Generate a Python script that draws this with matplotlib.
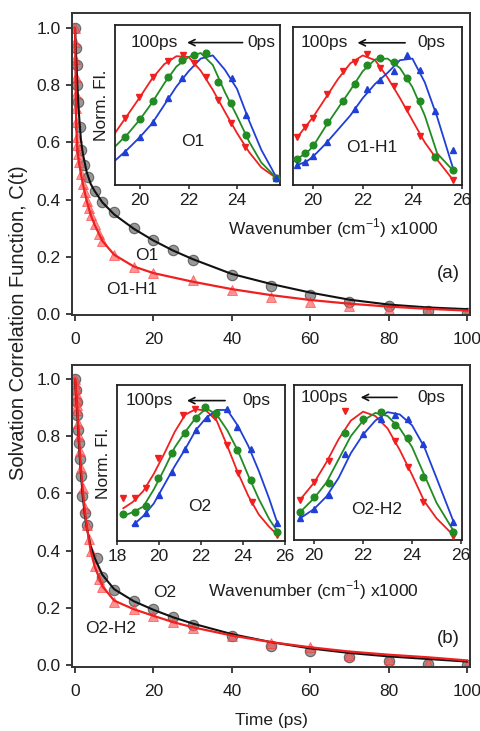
import matplotlib
matplotlib.use("Agg")
import matplotlib.pyplot as plt

plt.rcParams['font.family'] = ['Liberation Sans', 'DejaVu Sans']

# ---- solvation correlation C(t), panel (a) ----
t_o1 = [0, 0.2, 0.4, 0.6, 0.8, 1.2, 1.6, 2.4, 3.2, 5, 7, 10, 15, 20, 25, 30,
        40, 50, 60, 70, 80, 90, 100]
c_o1 = [1.0, 0.93, 0.87, 0.80, 0.74, 0.655, 0.575, 0.52, 0.48, 0.43, 0.39,
        0.355, 0.30, 0.26, 0.224, 0.19, 0.137, 0.098, 0.066, 0.043, 0.028,
        0.012, 0.005]
fit_t_o1 = [0, 0.2, 0.4, 0.6, 0.8, 1, 1.5, 2, 3, 4, 5, 7, 10, 15, 20, 25, 30,
            40, 50, 60, 70, 80, 90, 100]
fit_o1 = [1.0, 0.93, 0.865, 0.80, 0.745, 0.70, 0.61, 0.56, 0.495, 0.455, 0.43,
          0.39, 0.348, 0.298, 0.257, 0.222, 0.192, 0.14, 0.105, 0.075, 0.05,
          0.033, 0.023, 0.017]

t_o1h1 = [0, 0.05, 0.1, 0.15, 0.2, 0.25, 0.3, 0.4, 0.5, 0.75, 1, 1.5, 2, 2.5,
          3, 3.5, 4, 5, 6, 7, 10, 15, 20, 30, 40, 50, 60, 70, 80, 90, 100]
c_o1h1 = [1.0, 0.95, 0.89, 0.83, 0.77, 0.72, 0.67, 0.62, 0.59, 0.56, 0.53,
          0.49, 0.455, 0.425, 0.395, 0.37, 0.345, 0.315, 0.28, 0.255, 0.205,
          0.163, 0.144, 0.118, 0.084, 0.06, 0.043, 0.028, 0.016, 0.008, 0.003]
fit_t_o1h1 = [0, 0.1, 0.2, 0.3, 0.5, 0.75, 1, 1.5, 2, 3, 4, 5, 7, 10, 15, 20,
              30, 40, 50, 60, 70, 80, 90, 100]
fit_o1h1 = [1.0, 0.89, 0.77, 0.67, 0.59, 0.555, 0.53, 0.49, 0.455, 0.395,
            0.347, 0.312, 0.255, 0.207, 0.166, 0.143, 0.113, 0.087, 0.066,
            0.049, 0.036, 0.026, 0.018, 0.012]

# ---- panel (b) ----
t_o2 = [0, 0.2, 0.4, 0.6, 0.8, 1.0, 1.2, 1.5, 1.8, 2.5, 3, 5.5, 7, 10, 15,
        20, 25, 30, 40, 50, 60, 70, 80, 90, 100]
c_o2 = [1.0, 0.96, 0.92, 0.875, 0.82, 0.775, 0.72, 0.66, 0.59, 0.53, 0.49,
        0.375, 0.309, 0.262, 0.225, 0.195, 0.169, 0.14, 0.101, 0.066, 0.05,
        0.029, 0.015, 0.003, 0.0]
fit_t_o2 = [0, 0.2, 0.4, 0.6, 0.8, 1, 1.5, 2, 2.5, 3, 4, 5, 7, 10, 15, 20, 25,
            30, 40, 50, 60, 70, 80, 90, 100]
fit_o2 = [1.0, 0.96, 0.92, 0.875, 0.825, 0.775, 0.67, 0.585, 0.525, 0.48,
          0.415, 0.375, 0.315, 0.265, 0.223, 0.193, 0.167, 0.145, 0.108, 0.08,
          0.058, 0.042, 0.03, 0.021, 0.012]

t_o2h2 = [0, 0.1, 0.2, 0.3, 0.4, 0.5, 0.6, 0.8, 1.0, 1.2, 1.5, 2, 2.5, 3, 3.5,
          4, 5, 6, 7, 10, 15, 20, 25, 30, 40, 50, 60, 70, 80, 90, 100]
c_o2h2 = [1.0, 0.985, 0.97, 0.95, 0.93, 0.91, 0.89, 0.845, 0.80, 0.75, 0.69,
          0.62, 0.55, 0.49, 0.44, 0.40, 0.345, 0.30, 0.274, 0.222, 0.196,
          0.172, 0.15, 0.13, 0.101, 0.078, 0.062, 0.035, 0.02, 0.006, 0.0]
fit_t_o2h2 = fit_t_o2
fit_o2h2 = [1.0, 0.97, 0.93, 0.89, 0.845, 0.80, 0.69, 0.61, 0.54, 0.485, 0.40,
            0.345, 0.275, 0.225, 0.195, 0.172, 0.15, 0.132, 0.103, 0.08,
            0.062, 0.047, 0.036, 0.027, 0.016]

# ---- time-resolved emission spectra (wavenumber x1000, normalised) ----
# O1
o1_red_x = [19.38, 19.97, 20.55, 21.16, 21.76, 22.24, 22.72, 23.22, 23.77, 24.32, 25.62]
o1_red_y = [0.417, 0.548, 0.677, 0.777, 0.8125, 0.76, 0.677, 0.531, 0.385, 0.24, 0.042]
o1_grn_x = [19.38, 20.0, 20.55, 21.16, 21.73, 22.24, 22.72, 23.22, 23.77, 24.37, 25.62]
o1_grn_y = [0.298, 0.41, 0.527, 0.677, 0.78, 0.81, 0.823, 0.646, 0.51, 0.3125, 0.042]
o1_blu_x = [19.38, 20.0, 20.55, 21.16, 21.73, 23.8, 24.37, 25.62]
o1_blu_y = [0.208, 0.302, 0.396, 0.542, 0.667, 0.667, 0.4375, 0.042]
o1_fit_x = [18.97, 19.5, 20.0, 20.5, 21.0, 21.5, 22.0, 22.5, 23.0, 23.5, 24.0, 24.5, 25.0, 25.65]
o1_fit_red = [0.325, 0.44, 0.55, 0.665, 0.755, 0.805, 0.80, 0.715, 0.595, 0.457, 0.324, 0.205, 0.11, 0.04]
o1_fit_grn = [0.24, 0.32, 0.41, 0.515, 0.635, 0.74, 0.80, 0.825, 0.75, 0.58, 0.43, 0.27, 0.14, 0.04]
o1_fit_blu = [0.152, 0.225, 0.30, 0.385, 0.50, 0.615, 0.71, 0.79, 0.81, 0.72, 0.60, 0.40, 0.22, 0.04]

# O1-H1
o1h1_red_x = [19.34, 19.68, 19.99, 20.58, 21.22, 21.69, 22.19, 22.70, 23.24, 23.78, 24.31, 24.92, 25.63]
o1h1_red_y = [0.302, 0.365, 0.427, 0.573, 0.719, 0.781, 0.827, 0.74, 0.625, 0.479, 0.3125, 0.177, 0.031]
o1h1_grn_x = [19.34, 19.68, 19.99, 20.58, 21.22, 21.69, 22.19, 22.70, 23.24, 23.78, 24.31, 24.92, 25.63]
o1h1_grn_y = [0.167, 0.202, 0.25, 0.396, 0.531, 0.64, 0.76, 0.806, 0.781, 0.677, 0.531, 0.18, 0.098]
o1h1_blu_x = [19.34, 19.68, 19.99, 20.58, 21.69, 22.19, 22.70, 23.24, 23.78, 24.31, 24.92, 25.63]
o1h1_blu_y = [0.125, 0.146, 0.181, 0.271, 0.479, 0.61, 0.667, 0.719, 0.823, 0.729, 0.469, 0.219]
o1h1_fit_x = [19.35, 19.75, 20.0, 20.5, 21.0, 21.5, 22.0, 22.5, 23.0, 23.5, 24.0, 24.5, 25.0, 25.65]
o1h1_fit_red = [0.30, 0.38, 0.43, 0.55, 0.67, 0.77, 0.82, 0.79, 0.68, 0.55, 0.41, 0.27, 0.16, 0.03]
o1h1_fit_grn = [0.165, 0.205, 0.245, 0.37, 0.485, 0.60, 0.72, 0.795, 0.80, 0.74, 0.62, 0.44, 0.20, 0.09]
o1h1_fit_blu = [0.125, 0.15, 0.18, 0.26, 0.35, 0.44, 0.55, 0.64, 0.71, 0.79, 0.80, 0.65, 0.43, 0.10]

# O2
o2_red_x = [18.3, 18.86, 19.38, 19.97, 21.16, 21.71, 22.67, 23.22, 23.77, 24.41, 25.6]
o2_red_y = [0.274, 0.274, 0.338, 0.53, 0.808, 0.844, 0.797, 0.615, 0.434, 0.252, 0.038]
o2_grn_x = [18.3, 18.86, 19.38, 19.97, 20.6, 21.24, 21.76, 22.19, 22.71, 23.73, 24.36, 25.6]
o2_grn_y = [0.173, 0.188, 0.224, 0.402, 0.566, 0.69, 0.79, 0.857, 0.818, 0.583, 0.391, 0.06]
o2_blu_x = [18.86, 19.38, 20.02, 20.6, 21.24, 21.76, 22.27, 23.22, 23.73, 24.36, 25.6]
o2_blu_y = [0.113, 0.177, 0.295, 0.444, 0.588, 0.712, 0.786, 0.844, 0.733, 0.588, 0.117]
o2_fit_x = [18.3, 18.75, 19.25, 19.75, 20.25, 20.75, 21.25, 21.75, 22.25, 22.75,
            23.25, 23.75, 24.25, 24.75, 25.25, 25.65]
o2_fit_red = [0.21, 0.25, 0.32, 0.43, 0.56, 0.70, 0.81, 0.845, 0.835, 0.77,
              0.61, 0.44, 0.29, 0.17, 0.09, 0.04]
o2_fit_grn = [0.16, 0.185, 0.22, 0.33, 0.46, 0.60, 0.70, 0.79, 0.85, 0.81,
              0.71, 0.58, 0.42, 0.27, 0.14, 0.06]
o2_fit_blu_x = o2_fit_x[1:]
o2_fit_blu = [0.10, 0.16, 0.24, 0.36, 0.48, 0.59, 0.71, 0.79, 0.84, 0.84,
              0.74, 0.61, 0.45, 0.27, 0.11]

# O2-H2
o2h2_x = [19.43, 20.0, 20.62, 21.27, 21.99, 22.72, 23.31, 23.85, 24.46, 25.69]
o2h2_red_y = [0.258, 0.376, 0.512, 0.834, 0.77, 0.817, 0.641, 0.469, 0.247, 0.026]
o2h2_grn_y = [0.183, 0.275, 0.37, 0.688, 0.778, 0.824, 0.742, 0.656, 0.405, 0.054]
o2h2_blu_y = [0.14, 0.198, 0.29, 0.555, 0.684, 0.778, 0.806, 0.778, 0.619, 0.118]
o2h2_fit_x = [19.43, 20.0, 20.5, 21.0, 21.5, 22.0, 22.5, 23.0, 23.5, 24.0, 24.5, 25.0, 25.69]
o2h2_fit_red = [0.26, 0.37, 0.50, 0.65, 0.77, 0.828, 0.80, 0.72, 0.58, 0.42, 0.25, 0.14, 0.03]
o2h2_fit_grn = [0.18, 0.27, 0.37, 0.52, 0.67, 0.77, 0.82, 0.80, 0.72, 0.60, 0.42, 0.24, 0.06]
o2h2_fit_blu = [0.14, 0.20, 0.28, 0.40, 0.56, 0.68, 0.77, 0.825, 0.81, 0.74, 0.60, 0.40, 0.12]

RED = "#f02020"
GREEN = "#228b22"
BLUE = "#1f3fd6"
INK = "#1e1e1e"
FS = 12.5
W, H = 481, 731


def px_rect(x0, y0, x1, y1):
    """pixel box (left, top, right, bottom) -> figure fraction rect"""
    return [x0 / W, 1 - y1 / H, (x1 - x0) / W, (y1 - y0) / H]


def decay_panel(rect, ylim, gray, red):
    ax = fig.add_axes(rect)
    (gt, gc, gft, gfc), (rt, rc, rft, rfc) = gray, red
    ax.plot(gt, gc, "o", ms=7.5, mfc="#6c6c6c", mec="#3c3c3c", mew=0.8,
            alpha=0.7, zorder=2)
    ax.plot(rt, rc, "^", ms=6.5, mfc="#ff5a5a", mec="#ff3030", mew=0.6,
            alpha=0.65, zorder=2)
    ax.plot(gft, gfc, "-", color="#111111", lw=1.5, zorder=3)
    ax.plot(rft, rfc, "-", color=RED, lw=1.6, zorder=3)
    ax.set_xlim(-0.77, 100.77)
    ax.set_ylim(*ylim)
    ax.set_xticks([0, 20, 40, 60, 80, 100])
    ax.set_yticks([0, 0.2, 0.4, 0.6, 0.8, 1.0])
    ax.set_yticklabels([f"{v:.1f}" for v in [0, 0.2, 0.4, 0.6, 0.8, 1.0]])
    ax.tick_params(direction="out", length=4, width=1.2, labelsize=FS,
                   colors=INK, top=False, right=False)
    ax.tick_params(axis="x", pad=8)
    ax.tick_params(axis="y", pad=4)
    for s in ax.spines.values():
        s.set_linewidth(1.4)
        s.set_color("#333333")
    return ax


def spectra_inset(rect, xlim, xticks, series, label, arrow):
    ax = fig.add_axes(rect, zorder=5)
    ax.set_facecolor("white")
    for mx, my, fx, fy, color, marker in series:
        ax.plot(fx, fy, "-", color=color, lw=1.3, zorder=2)
        ax.plot(mx, my, marker, color=color, ms=4.8, zorder=3, clip_on=False)
    ax.set_xlim(*xlim)
    ax.set_ylim(0, 1)
    ax.set_xticks(xticks)
    ax.set_yticks([])
    ax.tick_params(axis="x", direction="out", length=3, width=1.1,
                   labelsize=FS, colors=INK, pad=3)
    for s in ax.spines.values():
        s.set_linewidth(1.3)
        s.set_color("#222222")
    ax.text(label[1], label[2], label[0], transform=ax.transAxes,
            ha="center", va="center", fontsize=FS, color=INK)
    lx, head, tail, rx, ay = arrow
    ax.text(lx, ay, "100ps", transform=ax.transAxes, ha="center",
            va="center", fontsize=FS, color=INK)
    ax.text(rx, ay, "0ps", transform=ax.transAxes, ha="center",
            va="center", fontsize=FS, color=INK)
    ax.annotate("", xy=(head, ay), xytext=(tail, ay), xycoords="axes fraction",
                arrowprops=dict(arrowstyle="->", color="#111111", lw=1.2,
                                mutation_scale=11))
    return ax


fig = plt.figure(figsize=(W / 100, H / 100), dpi=100)

ax_a = decay_panel(px_rect(72, 13, 470, 315), (-0.0035, 1.0524),
                   (t_o1, c_o1, fit_t_o1, fit_o1),
                   (t_o1h1, c_o1h1, fit_t_o1h1, fit_o1h1))
ax_a.text(18.4, 0.206, "O1", ha="center", va="center", fontsize=FS, color=INK)
ax_a.text(14.5, 0.084, "O1-H1", ha="center", va="center", fontsize=FS, color=INK)
ax_a.text(0.945, 0.139, "(a)", transform=ax_a.transAxes, ha="center",
          va="center", fontsize=13.5, color=INK)

ax_b = decay_panel(px_rect(72, 365, 470, 667), (-0.007, 1.049),
                   (t_o2, c_o2, fit_t_o2, fit_o2),
                   (t_o2h2, c_o2h2, fit_t_o2h2, fit_o2h2))
ax_b.text(23.0, 0.255, "O2", ha="center", va="center", fontsize=FS, color=INK)
ax_b.text(9.2, 0.126, "O2-H2", ha="center", va="center", fontsize=FS, color=INK)
ax_b.text(0.945, 0.096, "(b)", transform=ax_b.transAxes, ha="center",
          va="center", fontsize=13.5, color=INK)
ax_b.set_xlabel("Time (ps)", fontsize=FS, color=INK, labelpad=10)

fig.text(19 / W, 1 - 323 / H, "Solvation Correlation Function, C(t)",
         rotation=90, ha="center", va="center", fontsize=14.5, color=INK)

ins1 = spectra_inset(px_rect(115, 25, 280, 185), (18.97, 25.77), [20, 22, 24],
                     [(o1_red_x, o1_red_y, o1_fit_x, o1_fit_red, RED, "v"),
                      (o1_grn_x, o1_grn_y, o1_fit_x, o1_fit_grn, GREEN, "o"),
                      (o1_blu_x, o1_blu_y, o1_fit_x, o1_fit_blu, BLUE, "^")],
                     ("O1", 0.47, 0.27), (0.24, 0.42, 0.79, 0.89, 0.89))
ins1.set_ylabel("Norm. Fl.", fontsize=FS, color=INK, labelpad=4)

spectra_inset(px_rect(293, 27, 462, 185), (19.19, 26.0), [20, 22, 24, 26],
              [(o1h1_red_x, o1h1_red_y, o1h1_fit_x, o1h1_fit_red, RED, "v"),
               (o1h1_grn_x, o1h1_grn_y, o1h1_fit_x, o1h1_fit_grn, GREEN, "o"),
               (o1h1_blu_x, o1h1_blu_y, o1h1_fit_x, o1h1_fit_blu, BLUE, "^")],
              ("O1-H1", 0.465, 0.24), (0.186, 0.365, 0.68, 0.82, 0.9))

ins3 = spectra_inset(px_rect(117, 385, 285, 541), (18.0, 26.0), [18, 20, 22, 24, 26],
                     [(o2_red_x, o2_red_y, o2_fit_x, o2_fit_red, RED, "v"),
                      (o2_grn_x, o2_grn_y, o2_fit_x, o2_fit_grn, GREEN, "o"),
                      (o2_blu_x, o2_blu_y, o2_fit_blu_x, o2_fit_blu, BLUE, "^")],
                     ("O2", 0.49, 0.22), (0.19, 0.40, 0.66, 0.83, 0.9))
ins3.set_ylabel("Norm. Fl.", fontsize=FS, color=INK, labelpad=4)

spectra_inset(px_rect(294, 385, 462, 540), (19.18, 26.04), [20, 22, 24, 26],
              [(o2h2_x, o2h2_red_y, o2h2_fit_x, o2h2_fit_red, RED, "v"),
               (o2h2_x, o2h2_grn_y, o2h2_fit_x, o2h2_fit_grn, GREEN, "o"),
               (o2h2_x, o2h2_blu_y, o2h2_fit_x, o2h2_fit_blu, BLUE, "^")],
              ("O2-H2", 0.49, 0.2), (0.18, 0.38, 0.63, 0.82, 0.92))

wn_label = "Wavenumber (cm$^{\\mathregular{-1}}$) x1000"
fig.text(333 / W, 1 - 228 / H, wn_label, ha="center", va="center",
         fontsize=FS, color=INK)
fig.text(313 / W, 1 - 590 / H, wn_label, ha="center", va="center",
         fontsize=FS, color=INK)

fig.savefig("out.png", dpi=100)
